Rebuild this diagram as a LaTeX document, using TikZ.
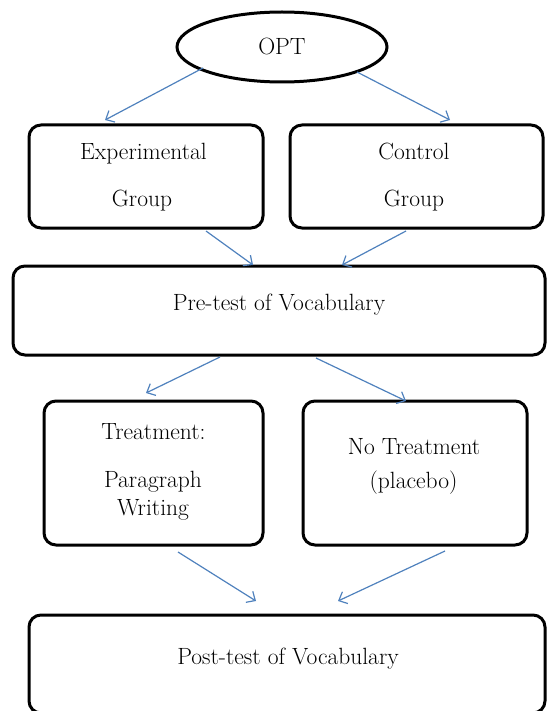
\documentclass[tikz,border=0pt]{standalone}
\usetikzlibrary{calc,arrows.meta,shapes.geometric}
\definecolor{arrblue}{RGB}{79,129,189}
\tikzset{
  box/.style={draw=black,line width=3pt,rounded corners=12pt,inner sep=0pt},
  oval/.style={draw=black,line width=3pt,ellipse,inner sep=0pt,minimum width=210pt,minimum height=70pt},
  txt/.style={inner sep=0pt,anchor=base,font=\fontsize{23.5}{28}\selectfont},
  arr/.style={draw=arrblue,line width=1.2pt,-{Straight Barb[length=7pt,width=13pt]}}
}
\begin{document}
\begin{tikzpicture}[x=1pt,y=-1pt]
\useasboundingbox (0,0) rectangle (547,711);
% shapes
\node[oval] (opt) at (282,47) {};
\node[box,minimum width=234pt,minimum height=103pt] (exp) at (146,176.5) {};
\node[box,minimum width=253pt,minimum height=103pt] (ctrl) at (416.5,176.5) {};
\node[box,minimum width=532pt,minimum height=89pt] (pre) at (279,310.5) {};
\node[box,minimum width=219pt,minimum height=144pt] (treat) at (153.5,473) {};
\node[box,minimum width=224pt,minimum height=144pt] (notr) at (415,473) {};
\node[box,minimum width=516pt,minimum height=98pt] (post) at (287,664) {};
% texts
\node[txt] (optT) at (282,55) {OPT};
\node[txt] (expT1) at (143.5,160) {Experimental};
\node[txt] (expT2) at (142,207) {Group};
\node[txt] (ctrlT1) at (414,160) {Control};
\node[txt] (ctrlT2) at (414,207) {Group};
\node[txt] (preT) at (279,310) {Pre-test of Vocabulary};
\node[txt] (treatT1) at (153.5,439) {Treatment:};
\node[txt] (treatT2) at (153,487) {Paragraph};
\node[txt] (treatT3) at (153,515) {Writing};
\node[txt] (notrT1) at (414,454) {No Treatment};
\node[txt] (notrT2) at (413.5,488) {(placebo)};
\node[txt] (postT) at (288,664) {Post-test of Vocabulary};
% connectors
\draw[arr] ($(opt.center)+(-79,21)$) -- ($(exp.center)+(-41,-56.5)$);
\draw[arr] ($(opt.center)+(75,25)$) -- ($(ctrl.center)+(33.5,-56.5)$);
\draw[arr] ($(exp.center)+(60,54.5)$) -- ($(pre.center)+(-26,-45.5)$);
\draw[arr] ($(ctrl.center)+(-10.5,54.5)$) -- ($(pre.center)+(63,-45.5)$);
\draw[arr] ($(pre.center)+(-59,46.5)$) -- ($(treat.center)+(-7.5,-80)$);
\draw[arr] ($(pre.center)+(37,47.5)$) -- ($(notr.center)+(-9,-72)$);
\draw[arr] ($(treat.center)+(24.5,79)$) -- ($(post.center)+(-31,-63)$);
\draw[arr] ($(notr.center)+(30,78)$) -- ($(post.center)+(51,-63)$);
\end{tikzpicture}
\end{document}
